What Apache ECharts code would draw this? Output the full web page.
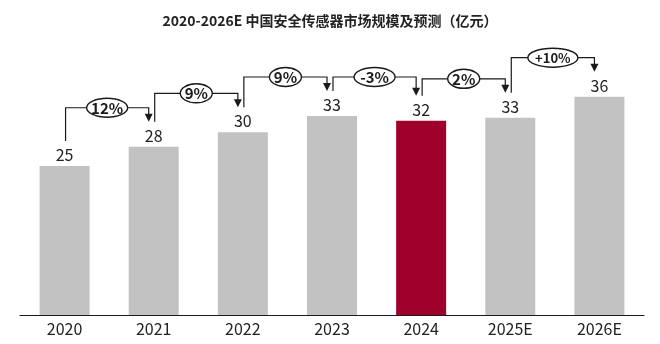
<!DOCTYPE html>
<html>
<head>
<meta charset="utf-8">
<script src="https://cdn.jsdelivr.net/npm/echarts@6/dist/echarts.min.js"></script>
<style>
html,body{margin:0;padding:0;background:#fff;}
#chart{width:660px;height:344px;}
</style>
</head>
<body>
<div id="chart"></div>
<script>
const categories = ['2020', '2021', '2022', '2023', '2024', '2025E', '2026E'];
const marketSize = [24.7, 27.9, 30.3, 33.0, 32.2, 32.7, 36.2];
const growthLabels = ['12%', '9%', '9%', '-3%', '2%', '+10%'];
const highlightCategory = '2024';
const titleText = '2020-2026E 中国安全传感器市场规模及预测（亿元）';

const FONT = '"Noto Sans CJK SC", "Noto Sans", sans-serif';

const connectorData = growthLabels.map((g, i) => [i, marketSize[i], marketSize[i + 1], g]);

const chart = echarts.init(document.getElementById('chart'), null, {renderer: 'canvas'});

function renderConnector(params, api) {
  const i = api.value(0);
  const v1 = api.value(1);
  const v2 = api.value(2);
  const label = growthLabels[i];
  const p1 = api.coord([i, v1]);
  const p2 = api.coord([i + 1, v2]);
  const x1 = p1[0] + 1;
  const x2 = p2[0] - 5;
  const y1 = p1[1] - 25;
  const y2 = p2[1] - 25;
  const top = Math.min(p1[1], p2[1]) - 39;
  const cx = (x1 + x2) / 2;
  const rx = label.length * 4.5 + 7;
  const fs = label.length > 3 ? 13 : 15;
  const stroke = '#1a1a1a';
  return {
    type: 'group',
    children: [
      {
        type: 'polyline',
        shape: {points: [[x1, y1], [x1, top], [x2, top], [x2, y2 - 7]]},
        style: {stroke: stroke, lineWidth: 1.2, fill: null}
      },
      {
        type: 'polygon',
        shape: {points: [[x2 - 4, y2 - 8], [x2 + 4, y2 - 8], [x2, y2]]},
        style: {fill: stroke}
      },
      {
        type: 'ellipse',
        shape: {cx: cx, cy: top, rx: rx, ry: 9.5},
        style: {fill: '#fff', stroke: stroke, lineWidth: 1.4}
      },
      {
        type: 'text',
        style: {
          text: label, x: cx, y: top + 0.5, align: 'center', verticalAlign: 'middle',
          font: 'bold ' + fs + 'px ' + FONT, fill: '#1a1a1a'
        }
      }
    ]
  };
}

chart.setOption({
  animation: false,
  backgroundColor: '#ffffff',
  title: {
    text: titleText,
    left: 'center',
    top: 9,
    textStyle: {fontFamily: FONT, fontSize: 14, fontWeight: 'bold', color: '#222'}
  },
  grid: {left: 20, right: 16, top: 13.5, bottom: 29, containLabel: false},
  xAxis: {
    type: 'category',
    data: categories,
    axisLine: {show: true, lineStyle: {color: '#1a1a1a', width: 1}},
    axisTick: {show: false},
    axisLabel: {fontFamily: FONT, fontSize: 16, color: '#222', margin: 6}
  },
  yAxis: {
    type: 'value',
    min: 0,
    max: 50,
    show: false
  },
  series: [
    {
      type: 'bar',
      data: marketSize,
      barWidth: 50,
      itemStyle: {
        color: p => categories[p.dataIndex] === highlightCategory ? '#a0002c' : '#c2c2c2'
      },
      label: {
        show: true,
        position: 'top',
        distance: 3,
        fontFamily: FONT,
        fontSize: 16,
        color: '#222',
        formatter: p => String(Math.round(p.value))
      }
    },
    {
      type: 'custom',
      data: connectorData,
      renderItem: renderConnector,
      z: 10,
      silent: true
    }
  ]
});
</script>
</body>
</html>
